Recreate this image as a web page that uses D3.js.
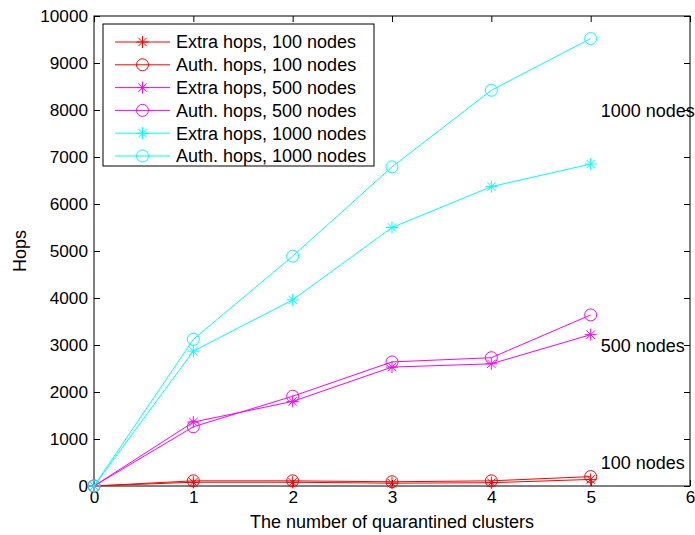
<!DOCTYPE html>
<html>
<head>
<meta charset="utf-8">
<script src="https://cdn.jsdelivr.net/npm/d3@7"></script>
<style>
  body { margin: 0; background: #fff; }
  text { font-family: "Liberation Sans", Arial, sans-serif; }
</style>
</head>
<body>
<div id="chart"></div>
<script>
const clusters = [0, 1, 2, 3, 4, 5];
const extra100 = [0, 80, 80, 60, 70, 140];
const auth100 = [0, 110, 110, 90, 110, 200];
const extra500 = [0, 1360, 1800, 2530, 2600, 3220];
const auth500 = [0, 1260, 1910, 2640, 2730, 3640];
const extra1000 = [0, 2870, 3960, 5500, 6370, 6850];
const auth1000 = [0, 3120, 4890, 6790, 8420, 9520];
const xTicks = [0, 1, 2, 3, 4, 5, 6];
const yTicks = [0, 1000, 2000, 3000, 4000, 5000, 6000, 7000, 8000, 9000, 10000];

const series = [
  { name: "Extra hops, 100 nodes", values: extra100, color: "#ff0000", marker: "star" },
  { name: "Auth. hops, 100 nodes", values: auth100, color: "#ff0000", marker: "circle" },
  { name: "Extra hops, 500 nodes", values: extra500, color: "#ff00ff", marker: "star" },
  { name: "Auth. hops, 500 nodes", values: auth500, color: "#ff00ff", marker: "circle" },
  { name: "Extra hops, 1000 nodes", values: extra1000, color: "#00ffff", marker: "star" },
  { name: "Auth. hops, 1000 nodes", values: auth1000, color: "#00ffff", marker: "circle" },
];
const groupLabels = [
  { text: "1000 nodes", value: 7980 },
  { text: "500 nodes", value: 2980 },
  { text: "100 nodes", value: 490 },
];

const width = 695, height = 535;
const margin = { left: 94, right: 5, top: 16, bottom: 49 };

const svg = d3.select("#chart").append("svg")
  .attr("width", width).attr("height", height);

const x = d3.scaleLinear().domain([0, 6]).range([margin.left, width - margin.right]);
const y = d3.scaleLinear().domain([0, 10000]).range([height - margin.bottom, margin.top]);

const tickLen = 6;
const tickFont = 17.2;
const textFont = 18;

// bottom axis (inner ticks) + top ticks
svg.append("g")
  .attr("transform", `translate(0,${y(0)})`)
  .call(d3.axisBottom(x).tickValues(xTicks).tickSizeInner(-tickLen).tickSizeOuter(0).tickPadding(5).tickFormat(d3.format("d")))
  .call(g => g.select(".domain").remove())
  .call(g => g.selectAll("text").attr("font-size", tickFont).attr("fill", "#000"));
svg.append("g")
  .attr("transform", `translate(0,${y(10000)})`)
  .call(d3.axisTop(x).tickValues(xTicks).tickSizeInner(-tickLen).tickSizeOuter(0).tickFormat(""))
  .call(g => g.select(".domain").remove());

// left axis + right ticks
svg.append("g")
  .attr("transform", `translate(${x(0)},0)`)
  .call(d3.axisLeft(y).tickValues(yTicks).tickSizeInner(-tickLen).tickSizeOuter(0).tickPadding(6).tickFormat(d3.format("d")))
  .call(g => g.select(".domain").remove())
  .call(g => g.selectAll("text").attr("font-size", tickFont).attr("fill", "#000"));
svg.append("g")
  .attr("transform", `translate(${x(6)},0)`)
  .call(d3.axisRight(y).tickValues(yTicks).tickSizeInner(-tickLen).tickSizeOuter(0).tickFormat(""))
  .call(g => g.select(".domain").remove());

// box
svg.append("rect")
  .attr("x", x(0)).attr("y", y(10000))
  .attr("width", x(6) - x(0)).attr("height", y(0) - y(10000))
  .attr("fill", "none").attr("stroke", "#000").attr("stroke-width", 1);

// axis titles
svg.append("text")
  .attr("x", (x(0) + x(6)) / 2).attr("y", height - 7)
  .attr("text-anchor", "middle").attr("font-size", textFont)
  .text("The number of quarantined clusters");
svg.append("text")
  .attr("transform", `translate(26,${(y(0) + y(10000)) / 2}) rotate(-90)`)
  .attr("text-anchor", "middle").attr("font-size", textFont)
  .text("Hops");

function drawMarker(g, type, cx, cy, color) {
  if (type === "circle") {
    g.append("circle").attr("cx", cx).attr("cy", cy).attr("r", 6)
      .attr("fill", "none").attr("stroke", color).attr("stroke-width", 1);
  } else {
    const r = 6;
    const p = [
      [cx - r, cy, cx + r, cy],
      [cx, cy - r, cx, cy + r],
      [cx - r * 0.7, cy - r * 0.7, cx + r * 0.7, cy + r * 0.7],
      [cx - r * 0.7, cy + r * 0.7, cx + r * 0.7, cy - r * 0.7],
    ];
    p.forEach(l => g.append("line")
      .attr("x1", l[0]).attr("y1", l[1]).attr("x2", l[2]).attr("y2", l[3])
      .attr("stroke", color).attr("stroke-width", 1));
  }
}

const line = d3.line().x((d, i) => x(clusters[i])).y(d => y(d));
const plot = svg.append("g");
series.forEach(s => {
  plot.append("path").datum(s.values)
    .attr("d", line).attr("fill", "none")
    .attr("stroke", s.color).attr("stroke-width", 1);
  const mg = plot.append("g");
  s.values.forEach((v, i) => drawMarker(mg, s.marker, x(clusters[i]), y(v), s.color));
});

// group labels
groupLabels.forEach(l => {
  svg.append("text")
    .attr("x", x(5) + 10).attr("y", y(l.value))
    .attr("font-size", textFont).attr("dy", "0.35em")
    .text(l.text);
});

// legend
const lg = svg.append("g").attr("transform", "translate(103,24)");
lg.append("rect").attr("width", 271).attr("height", 142)
  .attr("fill", "#fff").attr("stroke", "#000").attr("stroke-width", 1);
series.forEach((s, i) => {
  const cy = 18 + i * 22.8;
  lg.append("line").attr("x1", 12).attr("x2", 67).attr("y1", cy).attr("y2", cy)
    .attr("stroke", s.color).attr("stroke-width", 1);
  drawMarker(lg, s.marker, 39.5, cy, s.color);
  lg.append("text").attr("x", 73).attr("y", cy).attr("dy", "0.35em")
    .attr("font-size", textFont).text(s.name);
});
</script>
</body>
</html>
